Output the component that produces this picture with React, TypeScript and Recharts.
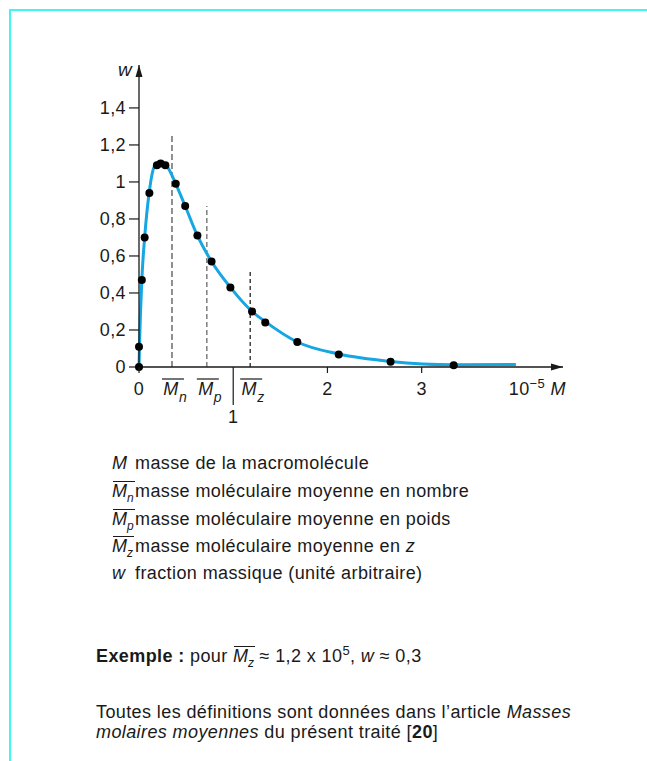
import React from 'react'
import {
  ComposedChart,
  Line,
  Scatter,
  XAxis,
  YAxis,
  ReferenceLine,
  ReferenceDot,
} from 'recharts'

// smooth curve (M in 10^5, w arbitrary)
const curveM = [0, 0.005, 0.03, 0.06, 0.11, 0.16, 0.22, 0.29, 0.39, 0.49, 0.62, 0.77, 0.97, 1.2, 1.34, 1.68, 2.12, 2.67, 3.34, 4.0]
const curveW = [0, 0.11, 0.47, 0.7, 0.95, 1.08, 1.11, 1.09, 0.99, 0.87, 0.71, 0.57, 0.43, 0.3, 0.245, 0.135, 0.07, 0.03, 0.012, 0.013]

// measured points (black dots)
const pointM = [0, 0, 0.03, 0.06, 0.11, 0.19, 0.23, 0.28, 0.39, 0.49, 0.62, 0.77, 0.97, 1.2, 1.34, 1.68, 2.12, 2.67, 3.34]
const pointW = [0, 0.11, 0.47, 0.7, 0.94, 1.09, 1.1, 1.09, 0.99, 0.87, 0.71, 0.57, 0.43, 0.3, 0.24, 0.135, 0.068, 0.029, 0.01]

// average molar masses (dashed markers)
const averageSub = ['n', 'p', 'z']
const averageM = [0.35, 0.72, 1.18]
const averageTop = [1.25, 0.87, 0.53]

const yTicks = [0, 0.2, 0.4, 0.6, 0.8, 1, 1.2, 1.4]
const xTicks = [0, 0.35, 0.72, 1, 1.18, 2, 3, 4.5]

const X_MAX = 4.5
const Y_MAX = 1.632

const FONT = '"Liberation Sans", Arial, Helvetica, sans-serif'
const FS = 18
const LS = 0.4
const INK = '#1a1a1a'
const CURVE = '#16a6e2'

const curveData = curveM.map((m, i) => ({ m, w: curveW[i] }))
const pointData = pointM.map((m, i) => ({ m, w: pointW[i] }))

const dashStyles = [
  { stroke: '#6b6b6b', dash: '6 3', width: 1.5 },
  { stroke: '#6b6b6b', dash: '5 3', width: 1.3 },
  { stroke: '#111', dash: '4 3', width: 1.2 },
]

function formatY(v: number): string {
  if (v === 0) return '0'
  if (v === 1) return '1'
  return v.toFixed(1).replace('.', ',')
}

function MbarSvg({ x, y, sub }: { x: number; y: number; sub: string }) {
  return (
    <g>
      <line x1={x - 10} y1={y + 12} x2={x + 12} y2={y + 12} stroke={INK} strokeWidth={1.2} />
      <text x={x - 1} y={y + 28} textAnchor="middle" fontSize={FS} fontStyle="italic" fill={INK} fontFamily={FONT}>
        M
      </text>
      <text x={x + 7} y={y + 35} fontSize={14} fontStyle="italic" fill={INK} fontFamily={FONT}>
        {sub}
      </text>
    </g>
  )
}

// eslint-disable-next-line @typescript-eslint/no-explicit-any
function XTick(props: any) {
  const { x, y, payload } = props
  const v = payload.value as number
  const idx = averageM.indexOf(v)
  if (idx >= 0) return <MbarSvg x={x} y={y} sub={averageSub[idx]} />
  if (v === 1) {
    return (
      <g>
        <line x1={x} y1={y} x2={x} y2={y + 38} stroke={INK} strokeWidth={1.2} />
        <text x={x} y={y + 56} textAnchor="middle" fontSize={FS} fill={INK} fontFamily={FONT}>
          1
        </text>
      </g>
    )
  }
  if (v === X_MAX) {
    return (
      <text x={x + 3} y={y + 28} textAnchor="end" fontSize={FS} fill={INK} fontFamily={FONT}>
        <tspan>10</tspan>
        <tspan dy={-7} fontSize={13}>−5</tspan>
        <tspan dy={7}> </tspan>
        <tspan fontStyle="italic">M</tspan>
      </text>
    )
  }
  return (
    <g>
      <line x1={x} y1={y} x2={x} y2={y + 6} stroke={INK} strokeWidth={1.2} />
      <text x={x} y={y + 28} textAnchor="middle" fontSize={FS} fill={INK} fontFamily={FONT}>
        {String(v)}
      </text>
    </g>
  )
}

// eslint-disable-next-line @typescript-eslint/no-explicit-any
const upArrow = (p: any) => (
  <g>
    <path d={`M${p.cx},${p.cy} L${p.cx - 3.5},${p.cy + 12} L${p.cx + 3.5},${p.cy + 12} Z`} fill={INK} />
    <text x={p.cx - 14} y={p.cy + 11} textAnchor="middle" fontSize={19} fontStyle="italic" fill={INK} fontFamily={FONT}>
      w
    </text>
  </g>
)

// eslint-disable-next-line @typescript-eslint/no-explicit-any
const rightArrow = (p: any) => (
  <path d={`M${p.cx},${p.cy} L${p.cx - 12},${p.cy - 3.5} L${p.cx - 12},${p.cy + 3.5} Z`} fill={INK} />
)

// eslint-disable-next-line @typescript-eslint/no-explicit-any
const dotShape = (p: any) => <circle cx={p.cx} cy={p.cy} r={4} fill="#000" />

function Mbar({ sub }: { sub: string }) {
  return (
    <span style={{ position: 'relative', display: 'inline-block', fontStyle: 'italic', letterSpacing: 0 }}>
      <span
        style={{
          position: 'absolute',
          left: 1,
          right: -1,
          top: 1,
          borderTop: `1.2px solid ${INK}`,
        }}
      />
      M
      <span style={{ fontSize: 12, position: 'relative', top: 5 }}>{sub}</span>
    </span>
  )
}

const legendRows: { sym: React.ReactNode; text: React.ReactNode; y: number }[] = [
  { sym: <i>M</i>, text: 'masse de la macromolécule', y: 463 },
  { sym: <Mbar sub="n" />, text: 'masse moléculaire moyenne en nombre', y: 491 },
  { sym: <Mbar sub="p" />, text: 'masse moléculaire moyenne en poids', y: 519 },
  { sym: <Mbar sub="z" />, text: <>masse moléculaire moyenne en <i>z</i></>, y: 546 },
  { sym: <i>w</i>, text: 'fraction massique (unité arbitraire)', y: 573 },
]

export default function App() {
  const line = (y: number): React.CSSProperties => ({
    position: 'absolute',
    top: y - 11,
    height: 22,
    lineHeight: '22px',
    whiteSpace: 'nowrap',
  })
  return (
    <div
      style={{
        position: 'absolute',
        left: 0,
        top: 0,
        width: 647,
        height: 761,
        background: '#fff',
        fontFamily: FONT,
        fontSize: FS,
        letterSpacing: LS,
        color: INK,
        overflow: 'hidden',
      }}
    >
      <div
        style={{
          position: 'absolute',
          left: 9,
          top: 9,
          width: 660,
          height: 800,
          borderTop: '2px solid #3ff5f5',
          borderLeft: '2px solid #3ff5f5',
        }}
      />
      <div style={{ position: 'absolute', left: 0, top: 0, letterSpacing: LS }}>
        <ComposedChart width={647} height={430} margin={{ top: 65, right: 84, left: 79, bottom: 3 }}>
          <XAxis
            dataKey="m"
            type="number"
            domain={[0, X_MAX]}
            ticks={xTicks}
            height={60}
            tickSize={0}
            tickMargin={0}
            tickLine={false}
            tick={XTick}
            axisLine={{ stroke: INK, strokeWidth: 1.3 }}
            interval={0}
          />
          <YAxis
            type="number"
            domain={[0, Y_MAX]}
            ticks={yTicks}
            width={60}
            tickSize={10}
            tickMargin={3}
            tickFormatter={formatY}
            tick={{ fontSize: FS, fill: INK, fontFamily: FONT }}
            tickLine={{ stroke: INK, strokeWidth: 1.2 }}
            axisLine={{ stroke: INK, strokeWidth: 1.3 }}
            interval={0}
          />
          {averageM.map((m, i) => (
            <ReferenceLine
              key={averageSub[i]}
              segment={[
                { x: m, y: 0 },
                { x: m, y: averageTop[i] },
              ]}
              stroke={dashStyles[i].stroke}
              strokeDasharray={dashStyles[i].dash}
              strokeWidth={dashStyles[i].width}
            />
          ))}
          <Line
            data={curveData}
            dataKey="w"
            type="monotone"
            stroke={CURVE}
            strokeWidth={3}
            dot={false}
            activeDot={false}
            isAnimationActive={false}
          />
          <Scatter data={pointData} dataKey="w" shape={dotShape} isAnimationActive={false} />
          <ReferenceDot x={0} y={Y_MAX} shape={upArrow} />
          <ReferenceDot x={X_MAX} y={0} shape={rightArrow} />
        </ComposedChart>
      </div>

      {legendRows.map((r, i) => (
        <React.Fragment key={i}>
          <div style={{ ...line(r.y), left: 112 }}>{r.sym}</div>
          <div style={{ ...line(r.y), left: 135 }}>{r.text}</div>
        </React.Fragment>
      ))}

      <div style={{ ...line(656), left: 96 }}>
        <b>Exemple :</b> pour <Mbar sub="z" /> ≈ 1,2 x 10
        <span style={{ fontSize: 13, position: 'relative', top: -7 }}>5</span>, <i>w</i> ≈ 0,3
      </div>

      <div style={{ position: 'absolute', left: 96, top: 702, lineHeight: '20px', width: 551, whiteSpace: 'nowrap' }}>
        Toutes les définitions sont données dans l’article <i>Masses</i>
        <br />
        <i>molaires moyennes</i> du présent traité [<b>20</b>]
      </div>
    </div>
  )
}
